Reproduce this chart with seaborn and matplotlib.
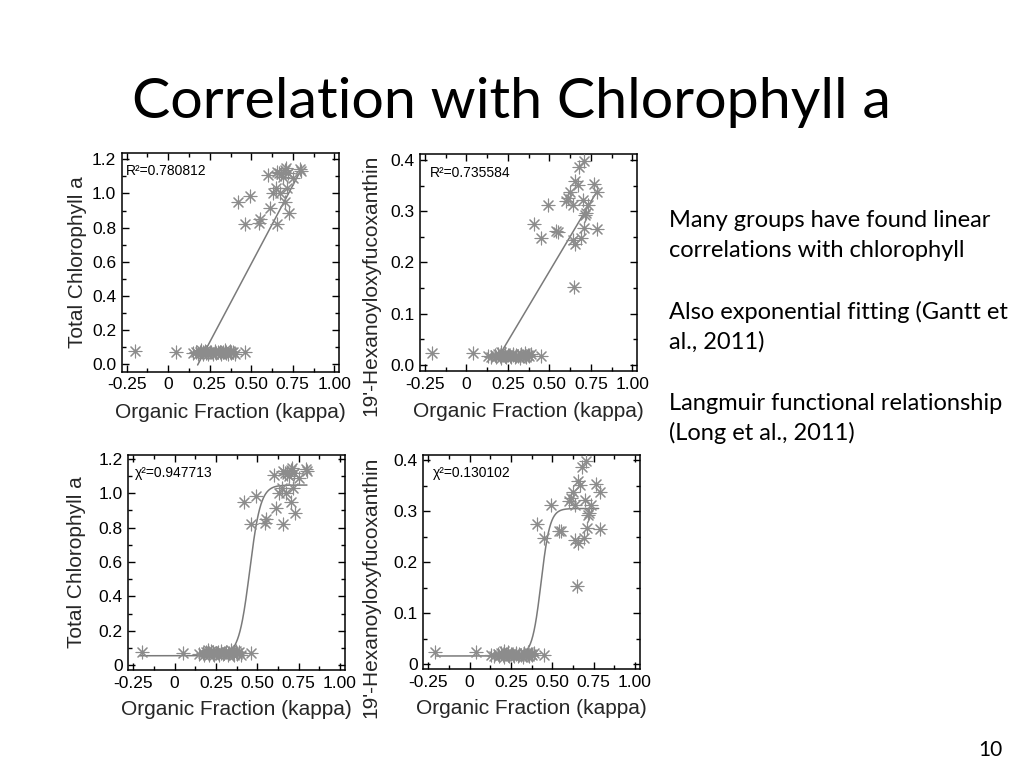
import numpy as np
import pandas as pd
import matplotlib
matplotlib.use("Agg")
import matplotlib.pyplot as plt
import seaborn as sns
from matplotlib.ticker import MultipleLocator, FixedLocator, FixedFormatter, FuncFormatter

# ---------------- data ----------------
# Total chlorophyll a vs organic fraction (kappa)
kappa_chl = [-0.20, 0.048,
             0.15, 0.17, 0.18, 0.19, 0.20, 0.21, 0.21, 0.22, 0.23, 0.23, 0.24, 0.25,
             0.26, 0.27, 0.28, 0.28, 0.29, 0.30, 0.31, 0.32, 0.33, 0.34, 0.35, 0.35,
             0.36, 0.37, 0.38, 0.38, 0.39, 0.40, 0.46,
             0.42, 0.494, 0.464, 0.554, 0.548, 0.613, 0.653, 0.633, 0.647, 0.673,
             0.702, 0.726, 0.603, 0.653, 0.702, 0.722, 0.752, 0.792, 0.80, 0.692,
             0.718, 0.68, 0.71, 0.665]
chl = [0.078, 0.07,
       0.065, 0.07, 0.06, 0.075, 0.085, 0.06, 0.07, 0.08, 0.065, 0.075, 0.06, 0.07,
       0.075, 0.06, 0.07, 0.08, 0.065, 0.07, 0.075, 0.06, 0.07, 0.085, 0.065, 0.075,
       0.06, 0.08, 0.07, 0.065, 0.075, 0.06, 0.07,
       0.948, 0.987, 0.821, 0.85, 0.825, 0.913, 0.821, 1.0, 1.03, 1.0,
       0.952, 0.888, 1.108, 1.128, 1.138, 1.118, 1.089, 1.143, 1.132, 1.098,
       1.03, 1.115, 1.15, 1.12]

# 19'-Hexanoyloxyfucoxanthin vs organic fraction (kappa)
kappa_hex = [-0.21, 0.04,
             0.13, 0.15, 0.17, 0.18, 0.19, 0.20, 0.21, 0.21, 0.22, 0.23, 0.23, 0.24,
             0.25, 0.26, 0.27, 0.28, 0.28, 0.29, 0.30, 0.31, 0.32, 0.33, 0.34, 0.35,
             0.35, 0.36, 0.37, 0.38, 0.39, 0.45,
             0.41, 0.45, 0.49, 0.54, 0.55, 0.60, 0.61, 0.626, 0.64, 0.65, 0.64,
             0.656, 0.655, 0.67, 0.68, 0.706, 0.70, 0.69, 0.71, 0.734, 0.72, 0.715,
             0.766, 0.79, 0.786]
hex19 = [0.023, 0.023,
         0.018, 0.016, 0.02, 0.015, 0.022, 0.018, 0.025, 0.014, 0.02, 0.017, 0.023, 0.016,
         0.02, 0.018, 0.015, 0.022, 0.019, 0.016, 0.02, 0.018, 0.014, 0.021, 0.017, 0.019,
         0.023, 0.016, 0.02, 0.018, 0.022, 0.018,
         0.275, 0.248, 0.312, 0.261, 0.26, 0.319, 0.325, 0.338, 0.312, 0.153, 0.244,
         0.237, 0.359, 0.351, 0.387, 0.398, 0.322, 0.248, 0.267, 0.312, 0.296, 0.293,
         0.353, 0.338, 0.265]

# fitted curves (parameters)
chl_lin = dict(slope=1.834, x0=0.179, y0=0.0, xmin=0.177, xmax=0.792, label="R²=0.780812")
hex_lin = dict(slope=0.5435, x0=0.20, y0=0.0195, xmin=0.20, xmax=0.786, label="R²=0.735584")
chl_sig = dict(base=0.054, top=1.048, xmid=0.454, width=0.033, xmin=-0.21, xmax=0.80, label="χ²=0.947713")
hex_sig = dict(base=0.0157, top=0.305, xmid=0.432, width=0.027, xmin=-0.20, xmax=0.78, label="χ²=0.130102")

xtick_vals = [-0.25, 0, 0.25, 0.50, 0.75, 1.00]
xtick_labels = ["-0.25", "0", "0.25", "0.50", "0.75", "1.00"]
xlabel = "Organic Fraction (kappa)"
ylabel_chl = "Total Chlorophyll a"
ylabel_hex = "19'-Hexanoyloxyfucoxanthin"

title = "Correlation with Chlorophyll a"
side_lines = ["Many groups have found linear", "correlations with chlorophyll",
              "Also exponential fitting (Gantt et", "al., 2011)",
              "Langmuir functional relationship", "(Long et al., 2011)"]
page_no = "10"

# ---------------- style ----------------
sns.set_style("ticks")
plt.rcParams["font.family"] = ["Liberation Sans", "DejaVu Sans"]

MARK = "#8c8c8c"
LINE = "#7a7a7a"

fig = plt.figure(figsize=(10.24, 7.68), dpi=100)

df_chl = pd.DataFrame({"kappa": kappa_chl, "val": chl})
df_hex = pd.DataFrame({"kappa": kappa_hex, "val": hex19})


def lin_curve(p):
    x = np.linspace(p["xmin"], p["xmax"], 100)
    return pd.DataFrame({"kappa": x, "val": p["y0"] + p["slope"] * (x - p["x0"])})


def sig_curve(p):
    x = np.linspace(p["xmin"], p["xmax"], 400)
    y = p["base"] + (p["top"] - p["base"]) / (1 + np.exp(-(x - p["xmid"]) / p["width"]))
    return pd.DataFrame({"kappa": x, "val": y})


panels = [
    ([121.7, 153.3, 339.3, 371.7], df_chl, lin_curve(chl_lin), chl_lin["label"],
     (-0.043, 1.235), 0.2, 0.1, "0.0", ylabel_chl, (-0.205, 0.5), (0.02, 0.919)),
    ([420.0, 154.3, 637.3, 371.0], df_hex, lin_curve(hex_lin), hex_lin["label"],
     (-0.0117, 0.411), 0.1, 0.05, "0.0", ylabel_hex, (-0.228, 0.397), (0.046, 0.912)),
    ([128.3, 455.0, 345.0, 670.0], df_chl, sig_curve(chl_sig), chl_sig["label"],
     (-0.029, 1.223), 0.2, 0.1, "0", ylabel_chl, (-0.241, 0.5), (0.03, 0.915)),
    ([423.3, 455.0, 640.0, 669.3], df_hex, sig_curve(hex_sig), hex_sig["label"],
     (-0.0104, 0.41), 0.1, 0.05, "0", ylabel_hex, (-0.244, 0.384), (0.046, 0.915)),
]

W, H = 1024.0, 768.0
for (rect, df, curve, note, ylim, ymaj, ymin_, zero_lab, ylab, ylc, npos) in panels:
    l, t, r, b = rect
    ax = fig.add_axes([l / W, (H - b) / H, (r - l) / W, (b - t) / H])
    sns.lineplot(data=curve, x="kappa", y="val", ax=ax, color=LINE, linewidth=1.1,
                 sort=False, estimator=None)
    sns.scatterplot(data=df, x="kappa", y="val", ax=ax, marker=(8, 2, 0), s=85,
                    color=MARK, edgecolor=MARK, linewidth=0.8, zorder=3)
    ax.set_xlim(-0.28, 1.03)
    ax.set_ylim(*ylim)
    ax.xaxis.set_major_locator(FixedLocator(xtick_vals))
    ax.xaxis.set_major_formatter(FixedFormatter(xtick_labels))
    ax.xaxis.set_minor_locator(MultipleLocator(0.125))
    ax.yaxis.set_major_locator(MultipleLocator(ymaj))
    ax.yaxis.set_minor_locator(MultipleLocator(ymin_))
    ax.yaxis.set_major_formatter(FuncFormatter(
        lambda v, pos, z=zero_lab: z if abs(v) < 1e-9 else f"{v:.1f}"))
    ax.tick_params(which="both", direction="in", top=True, right=True,
                   color="black", labelsize=12.5, labelcolor="black")
    ax.tick_params(which="major", length=5, width=1.0, pad=4)
    ax.tick_params(which="minor", length=3, width=1.0)
    for sp in ax.spines.values():
        sp.set_linewidth(1.1)
        sp.set_color("black")
    ax.set_xlabel(xlabel, fontsize=15, va="center")
    ax.xaxis.set_label_coords(0.5, -0.185)
    ax.set_ylabel(ylab, fontsize=15, va="center")
    ax.yaxis.set_label_coords(*ylc)
    ax.text(npos[0], npos[1], note, transform=ax.transAxes, fontsize=10,
            va="center", ha="left", color="black")

# slide title and side text
fig.text(511.5 / W, (H - 118) / H, title, ha="center", va="baseline",
         fontsize=41.3, family=["Lato", "DejaVu Sans"], color="black")
baselines = [226.7, 256.7, 319.0, 348.3, 410.0, 440.0]
for line, yb in zip(side_lines, baselines):
    fig.text(669 / W, (H - yb) / H, line, ha="left", va="baseline",
             fontsize=17, family=["Lato", "DejaVu Sans"], color="black")
fig.text(1003 / W, (H - 756) / H, page_no, ha="right", va="baseline",
         fontsize=15, family=["Lato", "DejaVu Sans"], color="black")

fig.savefig("out.png", dpi=100, facecolor="white")
